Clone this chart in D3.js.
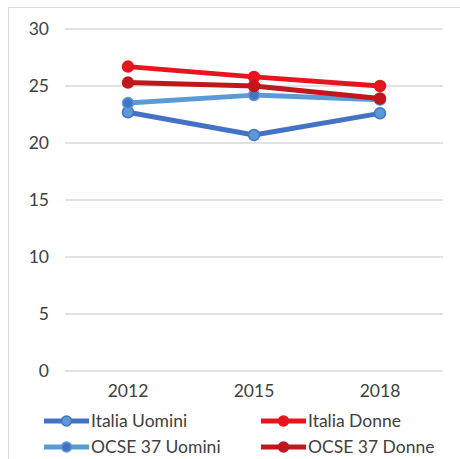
<!DOCTYPE html>
<html>
<head>
<meta charset="utf-8">
<script src="https://cdn.jsdelivr.net/npm/d3@7"></script>
<style>
  body { margin: 0; background: #fff; }
  text { font-family: Lato, "Open Sans", sans-serif; fill: #404040; }
</style>
</head>
<body>
<div id="chart"></div>
<script>
// data
var years = ["2012", "2015", "2018"];
var yTicks = [0, 5, 10, 15, 20, 25, 30];
var italiaUomini = [22.7, 20.7, 22.6];
var italiaDonne = [26.7, 25.8, 25.0];
var ocseUomini = [23.5, 24.2, 23.8];
var ocseDonne = [25.3, 25.0, 23.9];

var series = [
  { name: "Italia Uomini", values: italiaUomini, line: "#4472C4", fill: "#5B9BD5", stroke: "#4472C4" },
  { name: "Italia Donne", values: italiaDonne, line: "#E8141E", fill: "#E8141E", stroke: "#E8141E" },
  { name: "OCSE 37 Uomini", values: ocseUomini, line: "#5B9BD5", fill: "#4472C4", stroke: "#5B9BD5" },
  { name: "OCSE 37 Donne", values: ocseDonne, line: "#C0161C", fill: "#C0161C", stroke: "#C0161C" }
];

var svg = d3.select("#chart").append("svg")
  .attr("width", 460)
  .attr("height", 459);

// chart frame
svg.append("rect")
  .attr("x", 8.5).attr("y", 7.5)
  .attr("width", 460).attr("height", 470)
  .attr("fill", "none")
  .attr("stroke", "#d9d9d9");

var x = d3.scaleBand()
  .domain(years)
  .range([65, 443]);

var y = d3.scaleLinear()
  .domain([0, 30])
  .range([371, 29]);

// gridlines
svg.append("g")
  .selectAll("line")
  .data(yTicks).enter().append("line")
    .attr("x1", 65).attr("x2", 443)
    .attr("y1", function(d){ return y(d); })
    .attr("y2", function(d){ return y(d); })
    .attr("stroke", "#d9d9d9")
    .attr("stroke-width", 1.3);

var yAxis = d3.axisLeft(y).tickValues(yTicks).tickSize(0).tickPadding(0);
svg.append("g")
  .attr("transform", "translate(49,0)")
  .call(yAxis)
  .call(function(g){ g.select(".domain").remove(); })
  .selectAll("text")
    .style("font-family", "Lato, 'Open Sans', sans-serif")
    .style("font-size", "17.5px")
    .attr("fill", "#404040");

var xAxis = d3.axisBottom(x).tickSize(0).tickPadding(0);
svg.append("g")
  .attr("transform", "translate(0,385)")
  .call(xAxis)
  .call(function(g){ g.select(".domain").remove(); })
  .selectAll("text")
    .style("font-family", "Lato, 'Open Sans', sans-serif")
    .style("font-size", "17.5px")
    .attr("fill", "#404040");

var line = d3.line()
  .x(function(d, i){ return x(years[i]) + x.bandwidth() / 2; })
  .y(function(d){ return y(d); });

series.forEach(function(s){
  var g = svg.append("g");
  g.append("path")
    .datum(s.values)
    .attr("d", line)
    .attr("fill", "none")
    .attr("stroke", s.line)
    .attr("stroke-width", 5)
    .attr("stroke-linejoin", "round");
  g.selectAll("circle")
    .data(s.values).enter().append("circle")
      .attr("cx", function(d, i){ return x(years[i]) + x.bandwidth() / 2; })
      .attr("cy", function(d){ return y(d); })
      .attr("r", 5.5)
      .attr("fill", s.fill)
      .attr("stroke", s.stroke)
      .attr("stroke-width", 1.5);
});

// legend
var legend = svg.append("g");
var legendPos = [[44, 421], [261, 421], [44, 447], [261, 447]];
series.forEach(function(s, i){
  var p = legendPos[i];
  var g = legend.append("g").attr("transform", "translate(" + p[0] + "," + p[1] + ")");
  g.append("line")
    .attr("x1", 0).attr("x2", 45)
    .attr("stroke", s.line).attr("stroke-width", 5);
  g.append("circle")
    .attr("cx", 22.5).attr("r", 5)
    .attr("fill", s.fill).attr("stroke", s.stroke).attr("stroke-width", 1.5);
  g.append("text")
    .attr("x", 47).attr("y", 6)
    .style("font-size", "17.5px")
    .text(s.name);
});
</script>
</body>
</html>
